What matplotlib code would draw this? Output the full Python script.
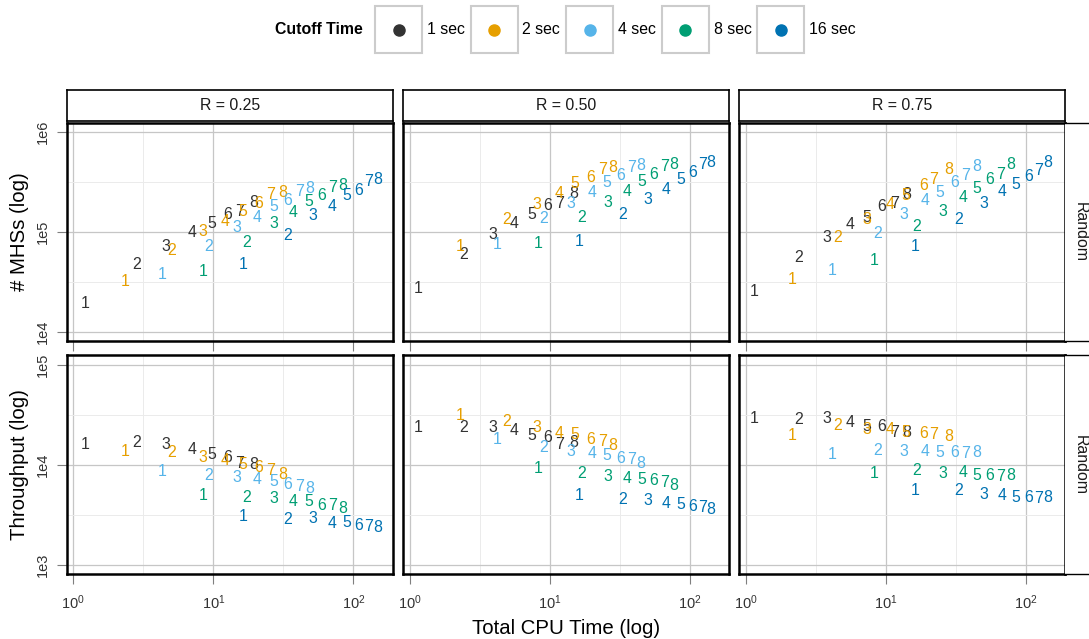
import matplotlib
matplotlib.use("Agg")
import matplotlib.pyplot as plt
import numpy as np
from matplotlib.patches import Rectangle
from matplotlib.lines import Line2D
from matplotlib.ticker import FixedLocator, FuncFormatter, NullFormatter

plt.rcParams['font.family'] = ['Liberation Sans', 'DejaVu Sans']

cutoffs = ["1 sec", "2 sec", "4 sec", "8 sec", "16 sec"]
colors = ["#333333", "#E69F00", "#56B4E9", "#009E73", "#0072B2"]
r_labels = ["R = 0.25", "R = 0.50", "R = 0.75"]
row_titles = ["# MHSs (log)", "Throughput (log)"]
strip_right = "Random"
steps = ["1", "2", "3", "4", "5", "6", "7", "8"]

# total cpu time per cutoff, one list per cutoff (R = 0.25)
cpu_r25 = [
    [1.21, 2.83, 4.57, 7.0, 9.7, 12.6, 15.5, 19.3],
    [2.34, 5.04, 8.4, 12.1, 16.2, 21.2, 25.8, 31.3],
    [4.33, 9.3, 14.8, 20.6, 27.1, 33.8, 41.6, 48.5],
    [8.4, 17.3, 27.1, 37.2, 47.8, 59.4, 70.8, 83.4],
    [16.4, 33.8, 51.8, 70.0, 89.5, 108.6, 128.8, 148.6],
]
mhs_r25 = [
    [19200, 46500, 71900, 97700, 121000, 150000, 161000, 195000],
    [31600, 65600, 100000, 126000, 161000, 192000, 236000, 245000],
    [36900, 70800, 110000, 138000, 178000, 207000, 251000, 271000],
    [39800, 77600, 121000, 156000, 200000, 229000, 277000, 293000],
    [47500, 90600, 144000, 178000, 228000, 261000, 316000, 333000],
]
thr_r25 = [
    [16200, 16900, 16100, 14400, 12600, 11800, 10400, 10200],
    [13800, 13400, 11800, 11000, 10200, 9400, 8900, 8070],
    [8570, 7820, 7530, 7080, 6810, 6310, 6070, 5850],
    [4900, 4710, 4650, 4300, 4300, 3980, 3980, 3690],
    [3040, 2860, 2930, 2610, 2650, 2510, 2450, 2360],
]

# R = 0.50
cpu_r50 = [
    [1.14, 2.43, 3.94, 5.53, 7.48, 9.7, 11.8, 14.7],
    [2.30, 4.90, 8.13, 11.6, 15.2, 19.5, 24.0, 28.3],
    [4.21, 9.06, 14.1, 19.9, 25.4, 32.0, 38.3, 44.7],
    [8.26, 16.8, 26.1, 35.9, 45.7, 55.6, 66.2, 77.3],
    [16.1, 32.9, 50.4, 68.1, 86.3, 104.5, 124.5, 141.9],
]
mhs_r50 = [
    [27100, 58500, 92700, 121000, 149000, 182000, 192000, 242000],
    [71900, 133000, 188000, 242000, 300000, 349000, 414000, 440000],
    [74600, 136000, 192000, 247000, 311000, 363000, 437000, 457000],
    [76400, 139000, 196000, 255000, 316000, 374000, 447000, 471000],
    [80700, 147000, 210000, 267000, 333000, 392000, 465000, 490000],
]
thr_r50 = [
    [23800, 23600, 23600, 21900, 19600, 18700, 16100, 16700],
    [31600, 27100, 23600, 20700, 20000, 17800, 17100, 15500],
    [18100, 14900, 13800, 12900, 12400, 11700, 11400, 10400],
    [9270, 8260, 7760, 7360, 7190, 6920, 6710, 6170],
    [5010, 4540, 4370, 4140, 4050, 3890, 3780, 3630],
]

# R = 0.75
cpu_r75 = [
    [1.14, 2.40, 3.82, 5.60, 7.36, 9.35, 11.6, 14.1],
    [2.13, 4.50, 7.38, 10.7, 14.0, 18.5, 22.0, 28.1],
    [4.15, 8.81, 13.4, 19.0, 24.3, 31.0, 37.0, 44.8],
    [8.20, 16.7, 25.6, 35.6, 44.8, 55.1, 65.6, 77.8],
    [16.3, 33.1, 50.2, 67.8, 85.3, 104.5, 123.0, 143.5],
]
mhs_r75 = [
    [25500, 55300, 87100, 118000, 138000, 178000, 192000, 233000],
    [32900, 87100, 131000, 185000, 228000, 293000, 333000, 420000],
    [40500, 96200, 147000, 207000, 247000, 311000, 361000, 447000],
    [52100, 112000, 161000, 220000, 271000, 333000, 374000, 471000],
    [70800, 133000, 192000, 255000, 297000, 355000, 405000, 490000],
]
thr_r75 = [
    [29300, 28800, 29300, 26700, 24500, 24200, 21200, 21200],
    [19600, 25100, 22400, 22400, 21200, 20700, 20000, 19200],
    [12600, 14100, 13800, 13800, 13400, 13400, 13100, 13400],
    [8260, 8910, 8260, 8450, 7820, 7940, 7640, 7940],
    [5620, 5620, 5090, 5010, 4710, 4710, 4650, 4710],
]

cpu_cols = [cpu_r25, cpu_r50, cpu_r75]
y_rows = [[mhs_r25, mhs_r50, mhs_r75], [thr_r25, thr_r50, thr_r75]]

W, H = 1089, 639
fig = plt.figure(figsize=(W / 100, H / 100), dpi=100)


def px_axes(x0, y0, x1, y1):
    return fig.add_axes([x0 / W, 1 - y1 / H, (x1 - x0) / W, (y1 - y0) / H])


col_x = [(66.7, 392.7), (403.3, 729), (739.3, 1065)]
row_y = [(122.7, 341), (355, 574.3)]
xlim = (10 ** -0.047, 10 ** 2.281)
ylims = [(10 ** 3.907, 10 ** 6.09), (10 ** 2.907, 10 ** 5.1)]
ymajor = [[1e4, 1e5, 1e6], [1e3, 1e4, 1e5]]
base = 11.4

for r in range(2):
    for c in range(3):
        ax = px_axes(col_x[c][0], row_y[r][0], col_x[c][1], row_y[r][1])
        ax.set_xscale('log')
        ax.set_yscale('log')
        ax.set_xlim(*xlim)
        ax.set_ylim(*ylims[r])
        ax.xaxis.set_major_locator(FixedLocator([1, 10, 100]))
        ax.xaxis.set_minor_locator(FixedLocator([10 ** 0.5, 10 ** 1.5]))
        ax.yaxis.set_major_locator(FixedLocator(ymajor[r]))
        lo = np.log10(ymajor[r][0])
        ax.yaxis.set_minor_locator(FixedLocator([10 ** (lo - 0.5), 10 ** (lo + 0.5), 10 ** (lo + 1.5)]))
        ax.xaxis.set_minor_formatter(NullFormatter())
        ax.yaxis.set_minor_formatter(NullFormatter())
        ax.yaxis.set_major_formatter(FuncFormatter(lambda v, p: "1e%d" % round(np.log10(v))))
        ax.grid(which='major', color='#c6c6c6', lw=0.9)
        ax.grid(which='minor', color='#ebebeb', lw=0.7)
        ax.set_axisbelow(True)
        ax.tick_params(which='minor', length=0)
        ax.tick_params(which='major', length=7.5, width=0.8, color='#7f7f7f',
                       labelsize=10.5, labelcolor='#333333')
        ax.tick_params(axis='x', pad=6)
        ax.tick_params(axis='y', labelrotation=90, pad=4.5)
        for lbl in ax.get_yticklabels():
            lbl.set_va('center')
        if r == 0:
            ax.tick_params(axis='x', labelbottom=False)
        if c > 0:
            ax.tick_params(axis='y', left=False, labelleft=False)
        for sp in ax.spines.values():
            sp.set_linewidth(1.8)
            sp.set_color('black')

        xs_all = cpu_cols[c]
        ys_all = y_rows[r][c]
        for i, col in enumerate(colors):
            for k, s in enumerate(steps):
                ax.text(xs_all[i][k], ys_all[i][k], s, color=col, fontsize=base,
                        ha='center', va='center')

        # right strip
        if c == 2:
            sax = px_axes(1065, row_y[r][0], 1095, row_y[r][1])
            sax.set_xticks([])
            sax.set_yticks([])
            sax.spines['left'].set_visible(False)
            for k in ['top', 'bottom', 'right']:
                sax.spines[k].set_linewidth(1.0)
            sax.text(0.5, 0.5, strip_right, rotation=-90, ha='center', va='center',
                     fontsize=base, color='#1a1a1a', transform=sax.transAxes)

# top strips
for c in range(3):
    tax = px_axes(col_x[c][0], 90, col_x[c][1], 121)
    tax.set_xticks([])
    tax.set_yticks([])
    for sp in tax.spines.values():
        sp.set_linewidth(1.2)
    tax.text(0.5, 0.5, r_labels[c], ha='center', va='center', fontsize=base,
             color='#1a1a1a', transform=tax.transAxes)

# axis titles
fig.text(566 / W, 1 - 628 / H, "Total CPU Time (log)", ha='center', va='center', fontsize=14.7)
for r in range(2):
    yc = (row_y[r][0] + row_y[r][1]) / 2
    fig.text(20 / W, 1 - yc / H, row_titles[r], rotation=90, ha='center', va='center', fontsize=14.7)

# legend
fig.text(275 / W, 1 - 30 / H, "Cutoff Time", fontweight='bold', ha='left', va='center', fontsize=base)
for i, (lab, col) in enumerate(zip(cutoffs, colors)):
    x0 = 375 + i * 95.5
    fig.add_artist(Rectangle((x0 / W, 1 - 53 / H), 47 / W, 47 / H, transform=fig.transFigure,
                             fill=False, ec='#cccccc', lw=1.5))
    fig.add_artist(Line2D([(x0 + 23.5) / W], [1 - 29.5 / H], marker='o', ms=8, color=col,
                          transform=fig.transFigure))
    fig.text((x0 + 52) / W, 1 - 30 / H, lab, ha='left', va='center', fontsize=base)

fig.savefig("out.png", dpi=100)
